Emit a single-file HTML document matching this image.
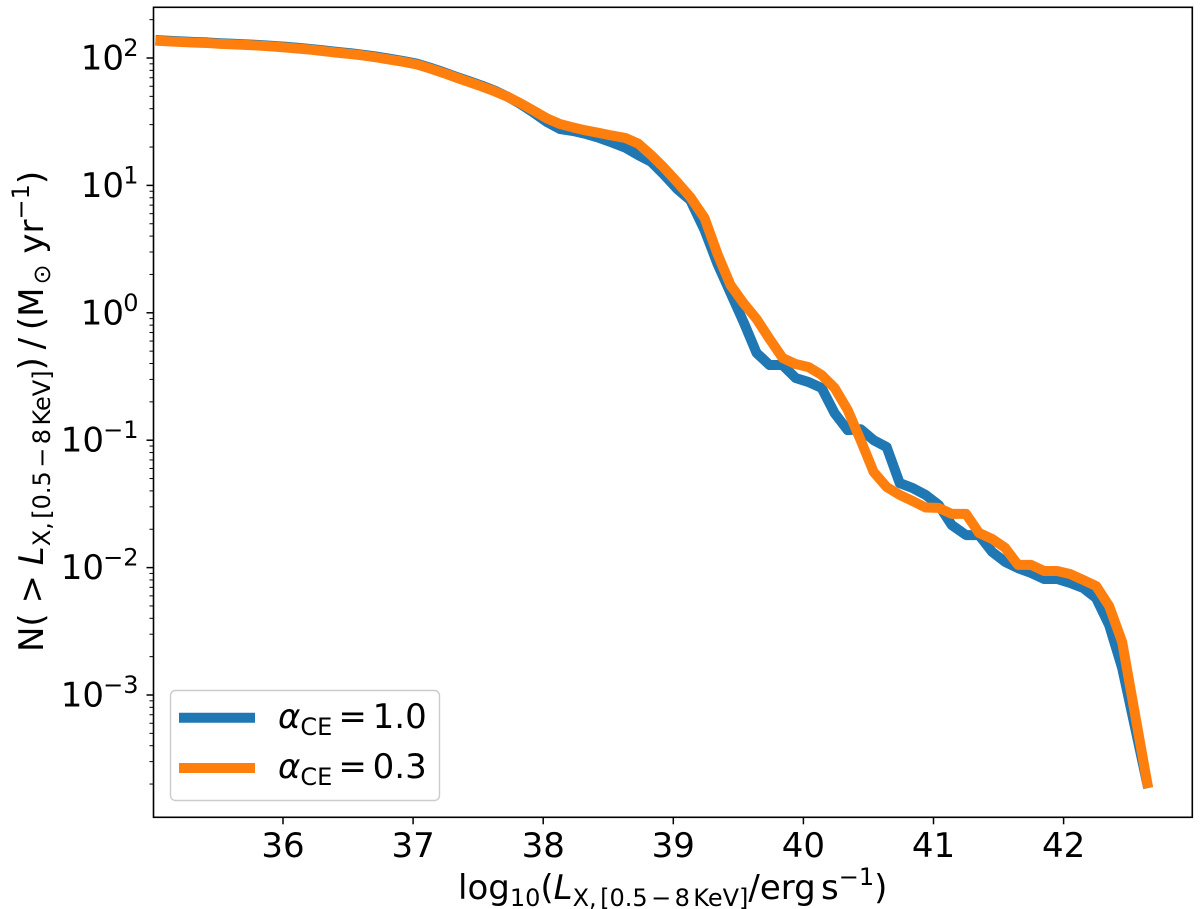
<!DOCTYPE html>
<html lang="en">
<head>
<meta charset="utf-8">
<title>Cumulative X-ray luminosity function</title>
<style>
html,body{margin:0;padding:0;background:#fff;}
svg{display:block;font-family:"DejaVu Sans","Liberation Sans",sans-serif;fill:#000;}
</style>
</head>
<body>
<svg id="chart" xmlns="http://www.w3.org/2000/svg" width="1200" height="909" viewBox="0 0 1200 909">
  <rect x="153.5" y="7.3" width="1038.8" height="810" fill="#fff"/>
  <g id="ticks"></g>
  <g id="series"></g>
  <rect x="153.5" y="7.3" width="1038.8" height="810" fill="none" stroke="#000" stroke-width="1.6"/>

  <text x="458" y="899" font-size="34">log<tspan font-size="24" dy="7">10</tspan><tspan dy="-7">(</tspan><tspan font-style="italic">L</tspan><tspan font-size="24" dy="7" style="word-spacing:-4.2px">X, [0.5 − 8 KeV]</tspan><tspan dy="-7" style="word-spacing:-5.5px">/erg s</tspan><tspan font-size="24" dy="-14">−1</tspan><tspan dy="14">)</tspan></text>

  <text transform="translate(43,652) rotate(-90)" x="0" y="0" font-size="34"><tspan style="word-spacing:-1px">N( &gt; </tspan><tspan font-style="italic">L</tspan><tspan font-size="24" dy="7" style="word-spacing:-4.2px">X, [0.5 − 8 KeV]</tspan><tspan dy="-7" style="word-spacing:-3px">) / (M</tspan><tspan font-size="24" dy="7" dx="3">⊙</tspan><tspan dy="-7"> yr</tspan><tspan font-size="24" dy="-14">−1</tspan><tspan dy="14">)</tspan></text>

  <g>
    <rect x="170.5" y="690.5" width="269" height="110" rx="5" ry="5" fill="#fff" fill-opacity="0.8" stroke="#ccc" stroke-width="1.4"/>
    <line x1="179" x2="255" y1="717.8" y2="717.8" stroke="#1f77b4" stroke-width="10"/>
    <line x1="179" x2="255" y1="768" y2="768" stroke="#ff7f0e" stroke-width="10"/>
    <text x="278" y="728" font-size="34"><tspan font-style="italic">α</tspan><tspan font-size="24" dy="7">CE</tspan><tspan dy="-7" dx="6" style="word-spacing:-5px">= 1.0</tspan></text>
    <text x="278" y="778" font-size="34"><tspan font-style="italic">α</tspan><tspan font-size="24" dy="7">CE</tspan><tspan dy="-7" dx="6" style="word-spacing:-5px">= 0.3</tspan></text>
  </g>
</svg>
<script>
const logLuminosity = [
35.02,35.12,35.22,35.32,35.42,35.52,35.62,35.72,35.82,35.92,
36.02,36.12,36.22,36.32,36.42,36.52,36.62,36.72,36.82,36.92,
37.03,37.13,37.23,37.33,37.43,37.53,37.63,37.73,37.83,37.93,
38.03,38.13,38.23,38.33,38.43,38.53,38.63,38.73,38.83,38.93,
39.03,39.13,39.24,39.34,39.44,39.54,39.64,39.74,39.84,39.94,
40.04,40.14,40.24,40.34,40.44,40.54,40.64,40.74,40.84,40.94,
41.04,41.14,41.25,41.35,41.45,41.55,41.65,41.75,41.85,41.95,
42.05,42.15,42.25,42.35,42.45,42.55,42.65];

const seriesAlpha10 = [
138.5,136.5,135,133.5,132.5,130.5,129.5,128,126.5,124.5,
122.5,120,117.5,114.5,111.5,109,106,102.5,98.8,94.9,
90.2,84,77.6,71.3,65.8,60.6,55.3,49.5,43.2,37,
31.4,27.7,26.7,25.3,23.6,21.7,19.8,17.3,15.3,12.1,
9.37,7.68,4.47,2.42,1.43,0.847,0.484,0.389,0.389,0.308,
0.286,0.257,0.163,0.12,0.122,0.1,0.0884,0.0461,0.0421,0.0372,
0.031,0.0216,0.018,0.018,0.0133,0.0111,0.0099,0.00907,0.00814,0.00814,
0.00757,0.00692,0.00577,0.00354,0.00163,0.000551,0.000186];

const seriesAlpha03 = [
137,135,133.5,132,131,129,128,126.5,125,123,
121,118.5,116,113,110,107.5,104.6,101,97.3,93.5,
88.9,82.7,76.5,70.3,64.8,59.7,54.6,49.4,43.9,38.4,
33.5,30.3,28.5,27,25.8,24.6,23.6,21.3,17.3,13.7,
10.6,8.11,5.55,2.89,1.65,1.19,0.894,0.623,0.442,0.396,
0.375,0.325,0.257,0.173,0.1,0.0563,0.0429,0.0372,0.0333,0.0296,
0.0294,0.0264,0.0264,0.0187,0.0168,0.0143,0.0105,0.0105,0.0094,0.0094,
0.0089,0.008,0.00717,0.00499,0.00261,0.000697,0.000186];

const xTickLabels = [36,37,38,39,40,41,42];
const yTickExponents = [2,1,0,-1,-2,-3];
const yMinorExponents = [2,1,0,-1,-2,-3,-4];
const minorMultipliers = [2,3,4,5,6,7,8,9];

const NS = 'http://www.w3.org/2000/svg';
function xScale(v){ return 283 + 130.1 * (v - 36); }
function yScale(v){ return 312.8 - 127.4 * Math.log10(v); }
const plotTop = 7.3, plotBottom = 817.3, plotLeft = 153.5;

function make(tag, parent, props, text){
  const el = document.createElementNS(NS, tag);
  for (const k in props) el.setAttribute(k, props[k]);
  if (text !== undefined) el.textContent = text;
  parent.appendChild(el);
  return el;
}

const tickLayer = document.getElementById('ticks');
const seriesLayer = document.getElementById('series');

xTickLabels.forEach(function(v){
  const px = xScale(v);
  const tick = make('line', tickLayer, {x1:px, x2:px, y1:plotBottom, y2:plotBottom + 7, stroke:'#000', 'stroke-width':1.5});
  
  
  const label = make('text', tickLayer, {x:px, y:857, 'font-size':34, 'text-anchor':'middle'}, String(v));
  
  
});

yTickExponents.forEach(function(e){
  const py = yScale(Math.pow(10, e));
  const tick = make('line', tickLayer, {x1:plotLeft - 7, x2:plotLeft, y1:py, y2:py, stroke:'#000', 'stroke-width':1.5});
  
  
  const base = make('text', tickLayer, {x:e < 0 ? 104 : 124, y:py + 11.5, 'font-size':34, 'text-anchor':'end'}, '10');
  
  
  const sup = make('text', tickLayer, {x:138.5, y:py - 2, 'font-size':24, 'text-anchor':'end'}, String(e).replace('-', '\u2212'));
  
  
});

yMinorExponents.forEach(function(e){
  minorMultipliers.forEach(function(m){
    const py = yScale(m * Math.pow(10, e));
    if (py < plotTop || py > plotBottom) return;
    const tick = make('line', tickLayer, {x1:plotLeft - 4, x2:plotLeft, y1:py, y2:py, stroke:'#000', 'stroke-width':1});
    
    
  });
});

function pathFor(values){
  return values.map(function(v, i){
    return (i ? 'L' : 'M') + xScale(logLuminosity[i]).toFixed(2) + ' ' + yScale(v).toFixed(2);
  }).join('');
}

const lineBlue = make('path', seriesLayer, {d:pathFor(seriesAlpha10), fill:'none', stroke:'#1f77b4', 'stroke-width':10, 'stroke-linejoin':'round'});



const lineOrange = make('path', seriesLayer, {d:pathFor(seriesAlpha03), fill:'none', stroke:'#ff7f0e', 'stroke-width':10, 'stroke-linejoin':'round'});


</script>
</body>
</html>
